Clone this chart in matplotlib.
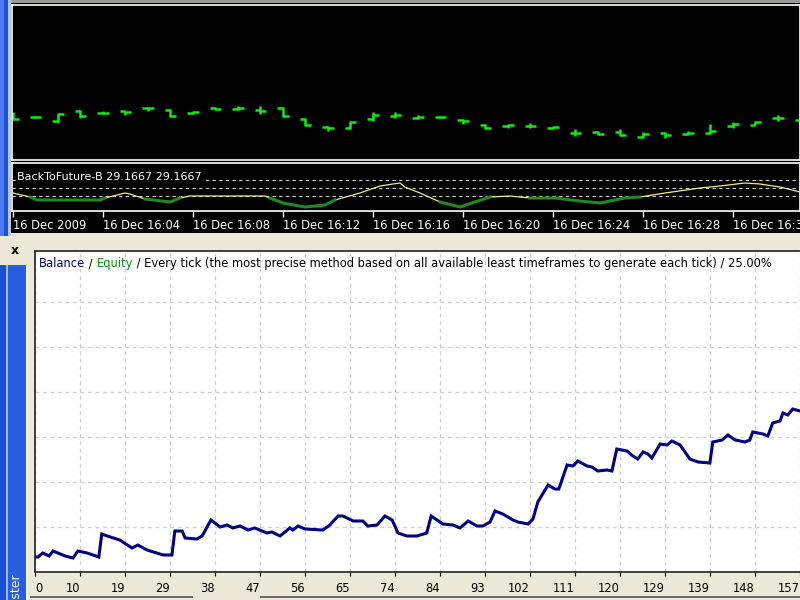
import numpy as np
import matplotlib
matplotlib.use("Agg")
from matplotlib import pyplot as plt
from matplotlib.patches import Rectangle

# price bars, 1 minute, 16 Dec 2009 16:00 ...
bar_open = [1.45046, 1.45043, 1.45039, 1.45049, 1.45047, 1.45049, 1.45052, 1.45050, 1.45047, 1.45052,
            1.45051, 1.45050, 1.45052, 1.45041, 1.45033, 1.45032, 1.45041, 1.45044, 1.45042, 1.45043,
            1.45040, 1.45035, 1.45034, 1.45034, 1.45032, 1.45027, 1.45028, 1.45028, 1.45023, 1.45027,
            1.45026, 1.45027, 1.45034, 1.45035, 1.45042, 1.45040]
bar_close = [1.45041, 1.45043, 1.45046, 1.45044, 1.45047, 1.45048, 1.45052, 1.45044, 1.45048, 1.45051,
             1.45052, 1.45049, 1.45044, 1.45035, 1.45032, 1.45038, 1.45045, 1.45045, 1.45043, 1.45043,
             1.45039, 1.45032, 1.45035, 1.45034, 1.45033, 1.45027, 1.45026, 1.45025, 1.45026, 1.45025,
             1.45027, 1.45029, 1.45036, 1.45038, 1.45042, 1.45037]
bar_high = [1.45048, 1.45044, 1.45047, 1.45050, 1.45049, 1.45049, 1.45053, 1.45051, 1.45049, 1.45053,
            1.45054, 1.45054, 1.45053, 1.45042, 1.45034, 1.45039, 1.45048, 1.45048, 1.45045, 1.45044,
            1.45041, 1.45036, 1.45036, 1.45037, 1.45034, 1.45031, 1.45029, 1.45031, 1.45028, 1.45028,
            1.45029, 1.45036, 1.45038, 1.45039, 1.45045, 1.45042]
bar_low = [1.45040, 1.45042, 1.45037, 1.45042, 1.45046, 1.45045, 1.45049, 1.45043, 1.45046, 1.45050,
           1.45050, 1.45046, 1.45043, 1.45034, 1.45029, 1.45031, 1.45039, 1.45042, 1.45041, 1.45042,
           1.45036, 1.45031, 1.45032, 1.45032, 1.45031, 1.45024, 1.45025, 1.45024, 1.45022, 1.45022,
           1.45025, 1.45026, 1.45032, 1.45035, 1.45039, 1.45036]

# indicator (BackToFuture-B), x in bars
ind_x = [0, 0.76, 1.07, 3.87, 4.09, 4.98, 5.2, 5.87, 6.98, 7.42, 7.87, 11.2, 11.42, 12, 12.98, 13.87,
         14.31, 15.42, 16.31, 16.89, 17.2, 17.42, 18.09, 18.98, 19.87, 20.53, 21.2, 22.09, 22.98,
         24.09, 25.2, 26.09, 27.2, 27.87, 28.98, 30.53, 31.42, 32.53, 33.2, 34.09, 34.98]
ind_val = [37.5, 27.5, 20, 20, 25, 37.5, 35, 22.5, 15, 25, 30, 30, 25, 12.5, 2.5, 7.5,
           20, 37.5, 55, 60, 62.5, 52.5, 37.5, 15, 2.5, 15, 27.5, 30, 25,
           25, 17.5, 12.5, 25, 27.5, 37.5, 50, 55, 62.5, 60, 52.5, 40]
ind_levels = [70, 50, 30]
time_labels = ["16 Dec 2009", "16 Dec 16:04", "16 Dec 16:08", "16 Dec 16:12", "16 Dec 16:16",
               "16 Dec 16:20", "16 Dec 16:24", "16 Dec 16:28", "16 Dec 16:32"]

# tester balance graph
trade_no = [0, 0.6, 1.6, 2.9, 3.7, 4.7, 6.2, 7.8, 8.8, 10.7, 11.9, 13.1, 13.7, 14.8, 17.4, 19.9,
            21.1, 23.0, 25.0, 26.3, 28.1, 28.7, 30.2, 30.8, 33.2, 34.3, 36.1, 38.0, 39.4, 40.6,
            42.1, 43.7, 45.1, 47.6, 48.6, 50.3, 52.3, 52.9, 54.0, 55.4, 59.1, 60.5, 62.2, 63.2,
            65.3, 67.3, 68.3, 70.2, 71.8, 73.3, 74.5, 76.3, 78.4, 80.4, 81.3, 82.5, 83.7, 85.8,
            87.2, 88.9, 90.7, 91.9, 93.4, 94.4, 96.0, 98.1, 99.1, 101.2, 102.2, 103.2, 105.3,
            106.7, 107.5, 109.2, 110.4, 111.4, 113.3, 114.3, 115.5, 117.4, 118.4, 119.4, 121.5,
            122.7, 123.7, 124.8, 125.8, 126.6, 128.3, 129.7, 130.7, 132.4, 134.4, 136.1, 138.5,
            139.1, 141.0, 142.2, 143.7, 145.7, 146.7, 147.3, 149.4, 150.4, 151.4, 152.9, 153.5,
            154.5, 155.5, 157.0]
balance = [10333, 10333, 10422, 10356, 10467, 10422, 10356, 10311, 10467, 10422, 10378, 10333,
           10844, 10800, 10711, 10533, 10600, 10489, 10422, 10378, 10378, 10911, 10911, 10756,
           10733, 10800, 11156, 11000, 11044, 10978, 11022, 10933, 10978, 10867, 10889, 10800,
           10978, 10933, 11022, 10956, 10933, 11044, 11244, 11244, 11133, 11133, 11022, 11044,
           11244, 11156, 10867, 10800, 10800, 10867, 11244, 11156, 11067, 11044, 10978, 11133,
           11022, 11022, 11111, 11356, 11289, 11156, 11111, 11067, 11178, 11556, 11933, 11844,
           11844, 12378, 12356, 12467, 12356, 12333, 12244, 12267, 12244, 12733, 12689, 12578,
           12511, 12667, 12622, 12533, 12844, 12822, 12911, 12822, 12511, 12444, 12422, 12889,
           12933, 13044, 12933, 12889, 12933, 13111, 13067, 13022, 13311, 13356, 13533, 13489,
           13622, 13578]
trade_ticks = ["0", "10", "19", "29", "38", "47", "56", "65", "74", "84", "93", "102", "111",
               "120", "129", "139", "148", "157"]

W, H = 800, 600
UI = "#ece9d8"


def px_rect(x0, y0, x1, y1):
    return [x0 / W, 1 - y1 / H, (x1 - x0) / W, (y1 - y0) / H]


def fig_box(fig, x0, y0, x1, y1, color):
    r = Rectangle((x0 / W, 1 - y1 / H), (x1 - x0) / W, (y1 - y0) / H,
                  transform=fig.transFigure, facecolor=color, edgecolor="none", zorder=0)
    fig.add_artist(r)


fig = plt.figure(figsize=(8, 6), dpi=100, facecolor=UI)

# window chrome
fig_box(fig, 0, 0, 800, 3, "#9c9a94")
fig_box(fig, 11, 3, 800, 233, "black")
fig_box(fig, 0, 0, 4, 236, "#4a7cf0")
fig_box(fig, 4, 0, 8, 236, "#1d4fd6")
fig_box(fig, 8, 0, 11, 236, "#b8c4dc")
fig_box(fig, 0, 265, 6, 600, "#1d4fd6")
fig_box(fig, 6, 265, 8, 600, "#9db8f0")
fig_box(fig, 8, 265, 26, 600, "#2a5ee0")
fig_box(fig, 26, 265, 28, 600, "#f4f4f0")
fig_box(fig, 30, 596, 193, 598, "#6c6c6c")
fig_box(fig, 260, 596, 800, 598, "#6c6c6c")
fig.text(15 / W, 1 - 251 / H, "x", ha="center", va="center", fontsize=9, fontweight="bold")
fig.text(17 / W, 1 - 574 / H, "Tester", rotation=90, ha="center", va="top",
         fontsize=9, color="white")

# price panel
ax_p = fig.add_axes(px_rect(12, 5, 800, 160), facecolor="black")
x_bar = np.arange(len(bar_open))
green = "#14e814"
ax_p.vlines(x_bar, bar_low, bar_high, color=green, lw=1.8)
ax_p.hlines(bar_open, x_bar - 0.25, x_bar, color=green, lw=1.8)
ax_p.hlines(bar_close, x_bar, x_bar + 0.25, color=green, lw=1.8)
ax_p.set_xlim(-0.044, 34.98)
ax_p.set_ylim(1.4500, 1.45155)
ax_p.set_xticks([])
ax_p.set_yticks([])
for s in ax_p.spines.values():
    s.set_color("white")
    s.set_linewidth(1.2)

# indicator panel
ax_i = fig.add_axes(px_rect(12, 163, 800, 211), facecolor="black")
for lv in ind_levels:
    ax_i.axhline(lv, color="#d0d0d0", lw=0.8, ls=(0, (3, 3)))
vals = np.array(ind_val, dtype=float)
ax_i.plot(ind_x, vals, color="#f0ec8a", lw=0.9)
low = np.ma.masked_where(vals > 28, vals)
ax_i.plot(ind_x, low, color="#1f8a1f", lw=2.2)
fig.text(17 / W, 1 - 177 / H, "BackToFuture-B 29.1667 29.1667", color="white", fontsize=8,
         va="center", zorder=5, bbox=dict(facecolor="black", edgecolor="none", pad=1))
ax_i.set_xlim(-0.044, 34.98)
ax_i.set_ylim(-7.5, 112.5)
ax_i.set_yticks([])
ax_i.set_xticks(np.arange(0, 36, 4))
ax_i.set_xticklabels(time_labels, ha="left", color="white", fontsize=8.3)
ax_i.tick_params(axis="x", colors="white", length=4, width=1, pad=2)
for s in ax_i.spines.values():
    s.set_color("white")
    s.set_linewidth(1.2)

# balance graph
ax_b = fig.add_axes(px_rect(35, 251, 800, 572), facecolor="white")
ax_b.plot(trade_no, balance, color="#000080", lw=2.2, solid_joinstyle="miter")
step = 157 / 17
ax_b.set_xlim(0, 157)
ax_b.set_ylim(10000, 17133)
ax_b.set_xticks([k * step for k in range(18)])
ax_b.set_xticklabels(trade_ticks, fontsize=8.3)
for i, lab in enumerate(ax_b.get_xticklabels()):
    lab.set_ha("left" if i == 0 else "right")
ax_b.set_yticks(np.arange(11000, 17000, 1000))
ax_b.tick_params(axis="y", length=0, labelleft=False)
ax_b.tick_params(axis="x", length=3, pad=4)
ax_b.grid(True, color="#cfcfcf", lw=0.9, ls=(0, (3, 3)))
ax_b.spines["right"].set_visible(False)
for s in ("left", "top", "bottom"):
    ax_b.spines[s].set_color("#202020")
    ax_b.spines[s].set_linewidth(1.2)

t1 = ax_b.text(4 / 765, 0.96, "Balance", transform=ax_b.transAxes, color="#000080",
               fontsize=8.3, va="center")
t2 = ax_b.annotate(" / ", xy=(1, 0), xycoords=t1, va="bottom", fontsize=8.3, color="black")
t3 = ax_b.annotate("Equity", xy=(1, 0), xycoords=t2, va="bottom", fontsize=8.3, color="#13891a")
ax_b.annotate(" / Every tick (the most precise method based on all available least timeframes "
              "to generate each tick) / 25.00%", xy=(1, 0), xycoords=t3, va="bottom",
              fontsize=8.3, color="black")

fig.savefig("out.png", dpi=100, facecolor=fig.get_facecolor())
